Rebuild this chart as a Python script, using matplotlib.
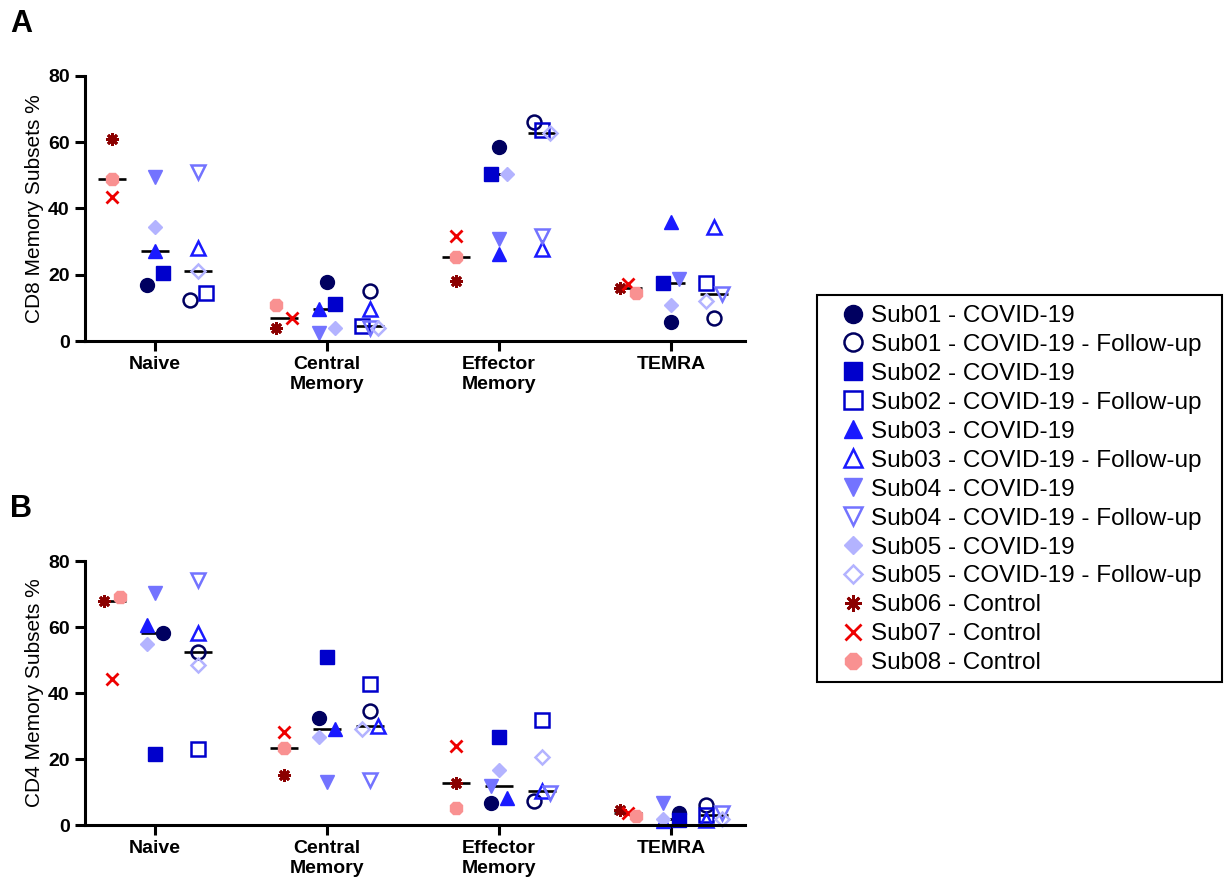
import numpy as np
import matplotlib.pyplot as plt
from matplotlib.lines import Line2D
from matplotlib.patches import Rectangle

plt.rcParams['font.family'] = ['Liberation Sans', 'DejaVu Sans']

subsets = ['Naive', 'Central\nMemory', 'Effector\nMemory', 'TEMRA']
y_ticks = [0, 20, 40, 60, 80]

# CD8 memory subsets % (panel A), order: Naive, Central, Effector, TEMRA
cd8_sub01 = [17.0, 17.9, 58.6, 5.8]
cd8_sub01_fu = [12.4, 15.0, 66.0, 6.9]
cd8_sub02 = [20.6, 11.2, 50.3, 17.6]
cd8_sub02_fu = [14.5, 4.5, 63.6, 17.6]
cd8_sub03 = [27.3, 9.6, 26.4, 36.0]
cd8_sub03_fu = [28.0, 9.7, 27.7, 34.3]
cd8_sub04 = [49.4, 2.5, 30.9, 18.7]
cd8_sub04_fu = [51.0, 4.0, 31.8, 14.2]
cd8_sub05 = [34.5, 4.0, 50.3, 10.9]
cd8_sub05_fu = [21.0, 4.0, 62.7, 12.1]
cd8_sub06 = [61.0, 4.0, 18.2, 16.1]
cd8_sub07 = [43.6, 7.0, 31.8, 17.3]
cd8_sub08 = [49.0, 10.9, 25.5, 14.5]

# CD4 memory subsets % (panel B)
cd4_sub01 = [58.3, 32.4, 6.7, 3.6]
cd4_sub01_fu = [52.5, 34.5, 7.3, 6.1]
cd4_sub02 = [21.4, 51.0, 26.6, 1.5]
cd4_sub02_fu = [22.9, 42.7, 31.8, 3.0]
cd4_sub03 = [60.5, 29.0, 8.2, 1.2]
cd4_sub03_fu = [58.3, 30.0, 10.4, 1.5]
cd4_sub04 = [70.2, 13.1, 11.8, 6.7]
cd4_sub04_fu = [74.2, 13.7, 9.8, 3.6]
cd4_sub05 = [55.0, 26.6, 16.8, 1.8]
cd4_sub05_fu = [48.5, 29.0, 20.5, 1.8]
cd4_sub06 = [67.8, 15.3, 12.8, 4.5]
cd4_sub07 = [44.3, 28.1, 23.8, 3.6]
cd4_sub08 = [69.0, 23.2, 5.2, 2.7]

# marker styles: label, marker, colour, filled, size
navy, blue2, blue3, blue4, blue5 = '#000060', '#0000cc', '#1a1aff', '#7373ff', '#b3b3ff'
asterisk = (8, 2, 0)
st_sub01 = ('Sub01 - COVID-19', 'o', navy, True, 10)
st_sub01_fu = ('Sub01 - COVID-19 - Follow-up', 'o', navy, False, 10)
st_sub02 = ('Sub02 - COVID-19', 's', blue2, True, 9.5)
st_sub02_fu = ('Sub02 - COVID-19 - Follow-up', 's', blue2, False, 9.5)
st_sub03 = ('Sub03 - COVID-19', '^', blue3, True, 10.5)
st_sub03_fu = ('Sub03 - COVID-19 - Follow-up', '^', blue3, False, 10.5)
st_sub04 = ('Sub04 - COVID-19', 'v', blue4, True, 10.5)
st_sub04_fu = ('Sub04 - COVID-19 - Follow-up', 'v', blue4, False, 10.5)
st_sub05 = ('Sub05 - COVID-19', 'D', blue5, True, 6.8)
st_sub05_fu = ('Sub05 - COVID-19 - Follow-up', 'D', blue5, False, 6.8)
st_sub06 = ('Sub06 - Control', asterisk, '#8b0000', True, 9)
st_sub07 = ('Sub07 - Control', 'x', '#ee0000', True, 9)
st_sub08 = ('Sub08 - Control', '8', '#f99191', True, 10)

legend_order = [st_sub01, st_sub01_fu, st_sub02, st_sub02_fu, st_sub03, st_sub03_fu,
                st_sub04, st_sub04_fu, st_sub05, st_sub05_fu, st_sub06, st_sub07, st_sub08]

W, H = 1225, 888
fig = plt.figure(figsize=(W / 100, H / 100), dpi=100)
axA = fig.add_axes([85 / W, 1 - 341 / H, 660 / W, 265 / H])
axB = fig.add_axes([85 / W, 1 - 825 / H, 660 / W, 264 / H])
XLIM = (-0.407, 3.43)
GROUP_OFF = 0.25
HALF_PX, ROW_PX = 8.0, 13.0


def swarm(vals, px_per_unit):
    """GraphPad-like scatter: points that sit close together vertically are spread sideways"""
    y = np.asarray(vals, float) * px_per_unit
    order = np.argsort(y, kind='stable')
    rows = [[order[0]]]
    for a, b in zip(order[:-1], order[1:]):
        if y[b] - y[a] < ROW_PX:
            rows[-1].append(b)
        else:
            rows.append([b])
    off = np.zeros(len(y))
    for r in rows:
        n = len(r)
        if n == 1:
            continue
        if n >= 3 and y[r[-1]] - y[r[0]] < ROW_PX:
            off[sorted(r)] = np.linspace(-HALF_PX, HALF_PX, n)
        else:
            off[r] = [(-1) ** (i + 1) * HALF_PX for i in range(n)]
    return off


def style_kw(m, col, filled, ms):
    kw = dict(marker=m, ms=ms, ls='none')
    if m in ('x', asterisk):
        kw.update(color=col, mew=2)
    elif filled:
        kw.update(mfc=col, mec=col, mew=1)
    else:
        kw.update(mfc='none', mec=col, mew=1.8)
    return kw


def draw_panel(ax, columns, ylabel):
    ax.set_xlim(*XLIM)
    ax.set_ylim(0, 80)
    bb = ax.get_position()
    px_y = bb.height * H / 80
    px_x = bb.width * W / (XLIM[1] - XLIM[0])
    for k in range(len(subsets)):
        for g, (data, styles) in enumerate(columns):
            cx = k + (g - 1) * GROUP_OFF
            vals = [d[k] for d in data]
            offs = swarm(vals, px_y) / px_x
            ax.hlines(np.median(vals), cx - 0.084, cx + 0.084, color='black', lw=1.9, zorder=1)
            for v, o, (lab, m, col, filled, ms) in zip(vals, offs, styles):
                ax.plot([cx + o], [v], clip_on=False, zorder=2, **style_kw(m, col, filled, ms))
    ax.set_xticks(range(len(subsets)))
    ax.set_xticklabels(subsets, fontweight='bold', fontsize=14)
    ax.set_yticks(y_ticks)
    ax.set_yticklabels([str(t) for t in y_ticks], fontweight='bold', fontsize=14)
    ax.set_ylabel(ylabel, fontsize=15, labelpad=3)
    for s in ('top', 'right'):
        ax.spines[s].set_visible(False)
    for s in ('left', 'bottom'):
        ax.spines[s].set_linewidth(2.2)
    ax.tick_params(width=2.2, length=7, pad=4)


draw_panel(axA, [
    ([cd8_sub06, cd8_sub07, cd8_sub08], [st_sub06, st_sub07, st_sub08]),
    ([cd8_sub01, cd8_sub02, cd8_sub03, cd8_sub04, cd8_sub05],
     [st_sub01, st_sub02, st_sub03, st_sub04, st_sub05]),
    ([cd8_sub01_fu, cd8_sub02_fu, cd8_sub03_fu, cd8_sub04_fu, cd8_sub05_fu],
     [st_sub01_fu, st_sub02_fu, st_sub03_fu, st_sub04_fu, st_sub05_fu]),
], 'CD8 Memory Subsets %')

draw_panel(axB, [
    ([cd4_sub06, cd4_sub07, cd4_sub08], [st_sub06, st_sub07, st_sub08]),
    ([cd4_sub01, cd4_sub02, cd4_sub03, cd4_sub04, cd4_sub05],
     [st_sub01, st_sub02, st_sub03, st_sub04, st_sub05]),
    ([cd4_sub01_fu, cd4_sub02_fu, cd4_sub03_fu, cd4_sub04_fu, cd4_sub05_fu],
     [st_sub01_fu, st_sub02_fu, st_sub03_fu, st_sub04_fu, st_sub05_fu]),
], 'CD4 Memory Subsets %')

fig.text(10 / W, 1 - 32 / H, 'A', fontsize=22, fontweight='bold')
fig.text(10 / W, 1 - 517 / H, 'B', fontsize=22, fontweight='bold')

# legend (markers a bit larger than in the plot)
handles = [Line2D([], [], **style_kw(m, col, filled, ms * 1.3))
           for lab, m, col, filled, ms in legend_order]
fig.legend(handles, [s[0] for s in legend_order], loc='upper left',
           bbox_to_anchor=(838 / W, 1 - 305 / H), frameon=False, fontsize=17.5,
           labelspacing=0.285, handlelength=1.2, handletextpad=0.15,
           borderpad=0, borderaxespad=0)
fig.patches.append(Rectangle((817 / W, 1 - 682 / H), 405 / W, 387 / H, transform=fig.transFigure,
                             fill=False, lw=1.5, ec='black'))

fig.savefig('out.png', dpi=100)
